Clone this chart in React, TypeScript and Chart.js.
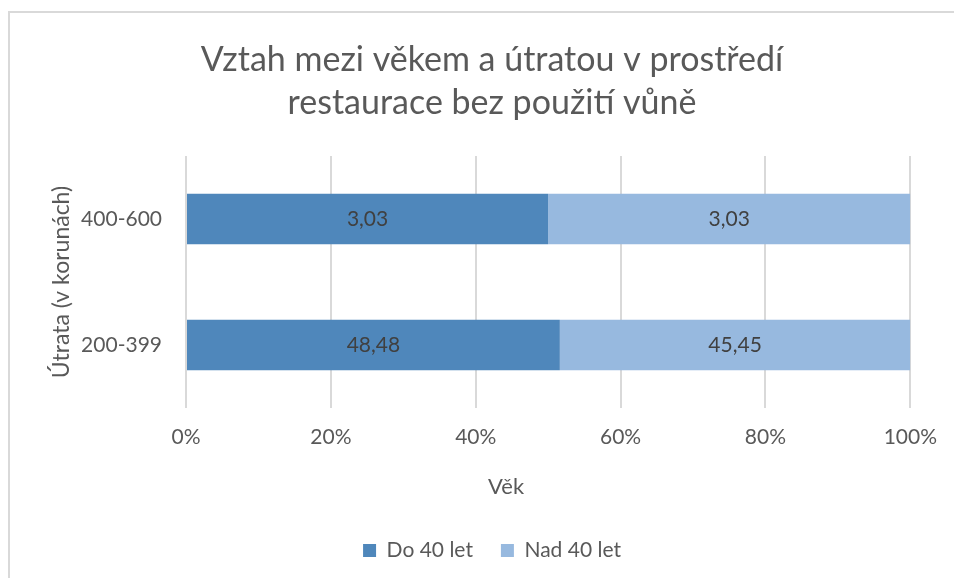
import React, { useEffect, useRef } from "react";
import { Chart, registerables } from "chart.js";

Chart.register(...registerables);

const categories = ["400-600", "200-399"];
const seriesNames = ["Do 40 let", "Nad 40 let"];
const under40 = [3.03, 48.48];
const over40 = [3.03, 45.45];
const xTickLabels = ["0%", "20%", "40%", "60%", "80%", "100%"];
const titleLines = ["Vztah mezi věkem a útratou v prostředí", "restaurace bez použití vůně"];
const xTitle = "Věk";
const yTitle = "Útrata (v korunách)";

const COLORS = ["#4F87BB", "#97B9DF"];
const FONT = "Lato";
const TEXT = "#595959";

const rawSeries = [under40, over40];
const totals = categories.map((_, i) => rawSeries.reduce((s, arr) => s + arr[i], 0));
const percentSeries = rawSeries.map((arr) => arr.map((v, i) => (v / totals[i]) * 100));

const dataLabelPlugin = {
  id: "dataLabels",
  afterDatasetsDraw(chart: any) {
    const ctx = chart.ctx;
    ctx.save();
    ctx.font = `21px ${FONT}`;
    ctx.fillStyle = "#404040";
    ctx.textAlign = "center";
    ctx.textBaseline = "middle";
    chart.data.datasets.forEach((ds: any, di: number) => {
      const meta = chart.getDatasetMeta(di);
      meta.data.forEach((bar: any, i: number) => {
        const raw = ds.rawValues[i];
        const x = (bar.x + bar.base) / 2;
        ctx.fillText(raw.toFixed(2).replace(".", ","), x, bar.y);
      });
    });
    ctx.restore();
  },
};

const xTitlePlugin = {
  id: "xTitle",
  afterDraw(chart: any) {
    const ctx = chart.ctx;
    const xs = chart.scales.x;
    ctx.save();
    ctx.font = `22px ${FONT}`;
    ctx.fillStyle = TEXT;
    ctx.textAlign = "center";
    ctx.textBaseline = "middle";
    ctx.fillText(xTitle, chart.width / 2 + 24, xs.top + 79);
    ctx.restore();
  },
};

export default function App() {
  const ref = useRef<HTMLCanvasElement>(null);
  useEffect(() => {
    if (!ref.current) return;
    const chart = new Chart(ref.current, {
      type: "bar",
      data: {
        labels: categories,
        datasets: seriesNames.map((name, di) => ({
          label: name,
          data: percentSeries[di],
          rawValues: rawSeries[di],
          backgroundColor: COLORS[di],
          borderWidth: 0,
          categoryPercentage: 1,
          barPercentage: 0.4,
        })) as any,
      },
      options: {
        indexAxis: "y",
        animation: false,
        responsive: false,
        maintainAspectRatio: false,
        layout: { padding: { left: 20, right: 0, top: 0, bottom: 7 } },
        plugins: {
          tooltip: { enabled: false },
          title: {
            display: true,
            text: titleLines,
            color: TEXT,
            font: { family: FONT, size: 34, weight: "normal", lineHeight: 43 / 34 },
            padding: { top: 25.5, bottom: 31.5 },
          },
          legend: {
            position: "bottom",
            labels: {
              color: TEXT,
              font: { family: FONT, size: 21 },
              boxWidth: 13,
              boxHeight: 13,
              padding: 28,
            },
          },
        },
        scales: {
          x: {
            stacked: true,
            min: 0,
            max: 100,
            afterFit: (s: any) => {
              s.height = 104;
            },
            ticks: {
              stepSize: 20,
              color: TEXT,
              font: { family: FONT, size: 21 },
              padding: 17,
              callback: (_v: any, i: number) => xTickLabels[i],
            },
            grid: { color: "#D9D9D9", lineWidth: 2, drawTicks: false },
            border: { display: false },
            title: { display: false },
          },
          y: {
            stacked: true,
            afterFit: (s: any) => {
              s.width = 156;
            },
            ticks: {
              color: TEXT,
              font: { family: FONT, size: 21 },
              padding: 24,
            },
            grid: { display: false, drawTicks: false },
            border: { display: false },
            title: {
              display: true,
              text: yTitle,
              color: TEXT,
              font: { family: FONT, size: 23 },
              padding: { top: 18, bottom: 0 },
            },
          },
          yRight: {
            type: "linear",
            position: "right",
            display: true,
            afterFit: (s: any) => {
              s.width = 42;
            },
            ticks: { display: false },
            grid: { display: false, drawTicks: false },
            border: { display: false },
          },
        },
      },
      plugins: [dataLabelPlugin, xTitlePlugin],
    });
    return () => chart.destroy();
  }, []);

  return (
    <div
      style={{
        position: "fixed",
        left: 8,
        top: 11,
        width: 946,
        height: 567,
        borderTop: "2px solid #D9D9D9",
        borderLeft: "2px solid #D9D9D9",
        background: "#fff",
      }}
    >
      <canvas ref={ref} width={944} height={565} style={{ display: "block" }} />
    </div>
  );
}
